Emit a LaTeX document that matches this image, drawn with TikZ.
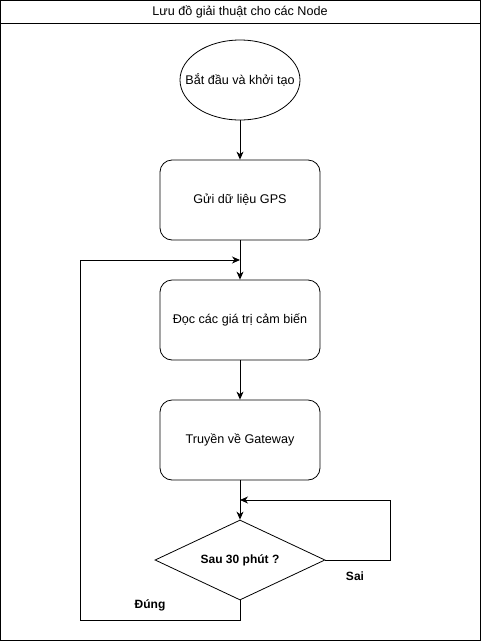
\documentclass[tikz,border=0pt]{standalone}
\usepackage{fontspec}
\setmainfont{Liberation Sans}
\usetikzlibrary{shapes.geometric,arrows.meta}
\begin{document}
\begin{tikzpicture}[x=1pt,y=-1pt,
  txt/.style={font=\fontsize{12.6pt}{15pt}\selectfont},
  boldtxt/.style={font=\fontsize{12pt}{14pt}\selectfont\bfseries},
  startnode/.style={txt,draw,ellipse,line width=0.8pt,minimum width=120pt,minimum height=80pt,inner sep=0pt},
  stepbox/.style={txt,draw,rounded corners=12pt,line width=0.8pt,minimum width=160pt,minimum height=80pt,inner sep=0pt},
  decision/.style={boldtxt,draw,diamond,line width=0.8pt,minimum width=170pt,minimum height=80pt,inner sep=0pt},
  flowlabel/.style={boldtxt},
  flow/.style={draw,line width=1pt,-{Stealth[length=8pt,width=7pt,inset=2.5pt]}}
]
\useasboundingbox (0,0) rectangle (481,641);

% frame and title bar
\draw[line width=1pt] (0.5,0.5) rectangle (480,640);
\draw[line width=1pt] (0.5,23) -- (480,23);
\node[txt] (title) at (240,12) {Lưu đồ giải thuật cho các Node};

% process steps
\node[startnode] (start) at (240,80) {\makebox[0pt]{Bắt đầu và khởi tạo}};
\node[stepbox] (gps) at (240,200) {Gửi dữ liệu GPS};
\node[stepbox] (read) at (240,320) {Đọc các giá trị cảm biến};
\node[stepbox] (send) at (240,440) {Truyền về Gateway};
\node[decision] (wait) at (240,560) {\makebox[0pt]{Sau 30 phút ?}};

% return points of the two loops
\coordinate (sairet) at (240,500);
\coordinate (dungret) at (240,260);

% main flow
\draw[flow] (start) -- (gps);
\draw[flow] (gps) -- (read);
\draw[flow] (read) -- (send);
\draw[flow] (send) -- (wait);

% wait loop and repeat loop
\draw[flow] (wait.east) -- (390,560) |- (sairet);
\draw[flow] (wait.south) -- (240,620) -| (80,260) -- (dungret);

\node[flowlabel] (sai) at (355,576) {Sai};
\node[flowlabel] (dung) at (150,605) {Đúng};
\end{tikzpicture}
\end{document}
